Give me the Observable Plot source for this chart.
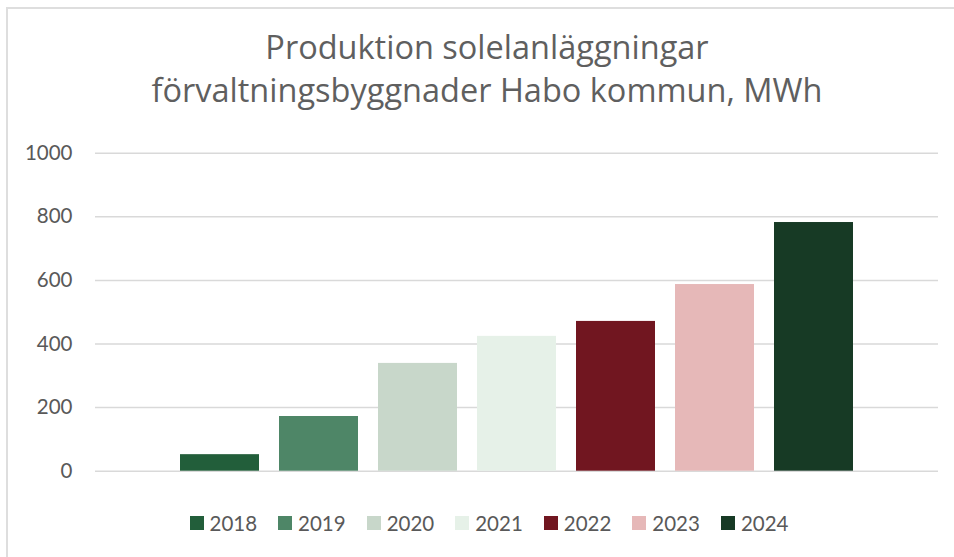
<!DOCTYPE html>
<html>
<head>
<meta charset="utf-8">
<script src="https://cdn.jsdelivr.net/npm/d3@7"></script>
<script src="https://cdn.jsdelivr.net/npm/@observablehq/plot@0.6"></script>
<style>
  html, body { margin: 0; padding: 0; background: #fff; overflow: hidden; }
  #chart { position: relative; width: 954px; height: 557px; overflow: hidden; font-family: Lato, "Open Sans", sans-serif; color: #595959; }
  #frame { position: absolute; left: 6px; top: 7px; width: 1000px; height: 600px; border-left: 2px solid #dedede; border-top: 2px solid #dedede; box-sizing: border-box; }
  #title { position: absolute; left: 0; width: 974px; top: 25px; text-align: center; font-family: "Open Sans", sans-serif; font-size: 32.5px; line-height: 43px; color: #5f5f5f; font-weight: 400; }
  #plot { position: absolute; left: 0; top: 130px; }
  #legend { position: absolute; left: 0; width: 978px; top: 508px; display: flex; justify-content: center; }
  #legend .lg-swatches { font-family: Lato, sans-serif; font-size: 20.5px; color: #595959; margin: 0; }
  #legend .lg-swatches-wrap { min-height: 30px; flex-wrap: nowrap; }
  #legend .lg-swatch { margin-right: 21px; }
  #legend .lg-swatch:last-child { margin-right: 0; }
  #legend .lg-swatch > svg { margin-right: 6px; }
</style>
</head>
<body>
<div id="chart">
  <div id="frame"></div>
  <div id="title"><div>Produktion solelanläggningar</div><div>förvaltningsbyggnader Habo kommun, MWh</div></div>
  <div id="plot"></div>
  <div id="legend"></div>
</div>
<script>
const years = ["2018", "2019", "2020", "2021", "2022", "2023", "2024"];
const production = [52, 172, 339, 424, 471, 587, 782];
const palette = ["#225e3a", "#4e8667", "#c8d7ca", "#e6f1e8", "#711620", "#e6b8b8", "#173a25"];
const yTicks = [0, 200, 400, 600, 800, 1000];

const data = years.map((year, i) => ({year, value: production[i]}));

const colorScale = {domain: years, range: palette};

const chart = Plot.plot({
  width: 954,
  height: 370,
  marginLeft: 95,
  marginRight: 16,
  marginTop: 22.7,
  marginBottom: 29.3,
  style: {fontFamily: "Lato, sans-serif", fontSize: "20px", color: "#595959", background: "transparent", overflow: "visible"},
  x: {domain: years, paddingInner: 0.207, paddingOuter: 0.861, axis: null},
  y: {domain: [0, 1000], axis: null},
  color: colorScale,
  marks: [
    Plot.gridY(yTicks, {stroke: "#d9d9d9", strokeOpacity: 1, strokeWidth: 1.5}),
    Plot.barY(data, {x: "year", y: "value", fill: "year"}),
    Plot.axisY(yTicks, {tickSize: 0, tickPadding: 23, fontSize: 20.5, fill: "#595959", label: null, tickFormat: d => String(d)})
  ]
});
document.getElementById("plot").appendChild(chart);

const legend = Plot.legend({
  color: {type: "ordinal", ...colorScale},
  className: "lg",
  swatchSize: 14
});
document.getElementById("legend").appendChild(legend);
</script>
</body>
</html>
